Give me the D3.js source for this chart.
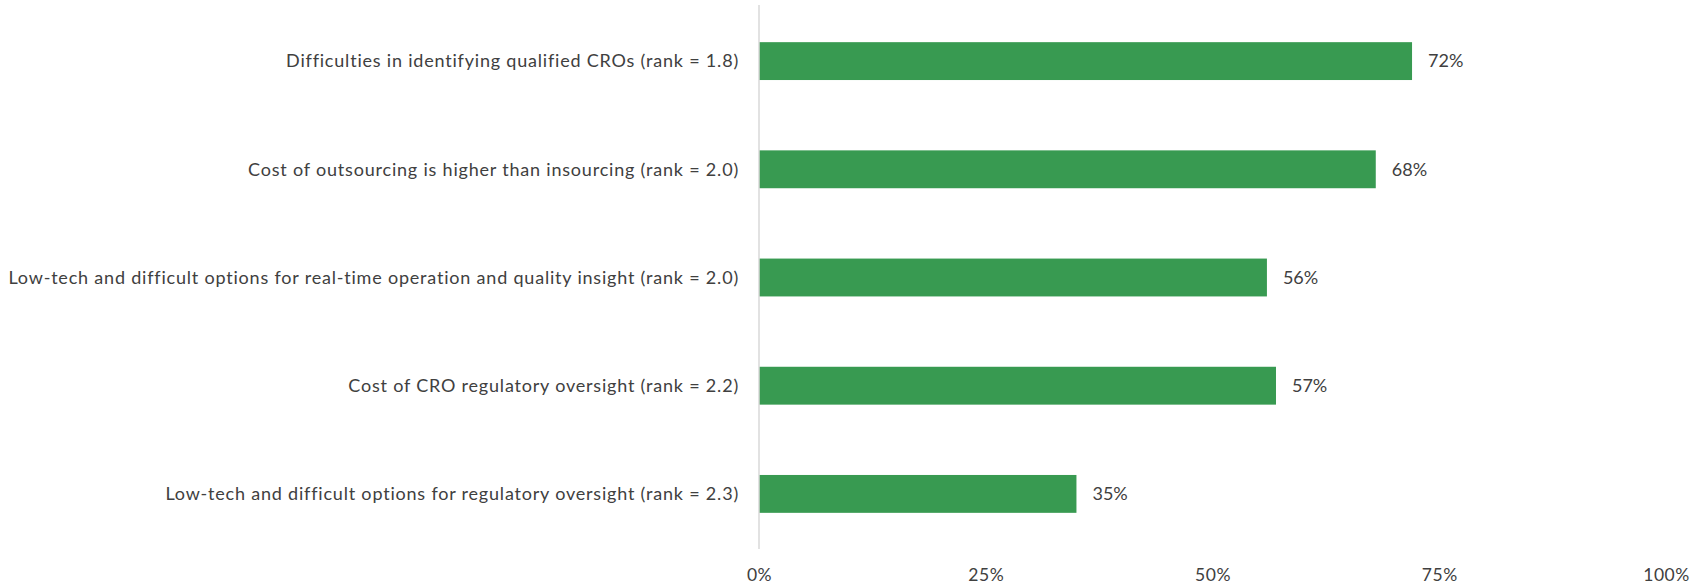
<!DOCTYPE html>
<html lang="en">
<head>
    <meta charset="UTF-8">
    <title>CRO challenges</title>
    <script src="https://d3js.org/d3.v7.min.js"></script>
    <style>
        body { margin: 0; background: #fff; }
        text { font-family: Lato, "Open Sans", sans-serif; fill: #404040; }
    </style>
</head>
<body>
<script>
    var categories = [
        "Difficulties in identifying qualified CROs (rank = 1.8)",
        "Cost of outsourcing is higher than insourcing (rank = 2.0)",
        "Low-tech and difficult options for real-time operation and quality insight (rank = 2.0)",
        "Cost of CRO regulatory oversight (rank = 2.2)",
        "Low-tech and difficult options for regulatory oversight (rank = 2.3)"
    ];
    var values = [0.72, 0.68, 0.56, 0.57, 0.35];
    var xTicks = [0, 0.25, 0.5, 0.75, 1];

    var margin = {top: 7, right: 39, bottom: 38, left: 759},
        width = 1705 - margin.left - margin.right,
        height = 586 - margin.top - margin.bottom;

    var svg = d3.select("body").append("svg")
        .attr("width", 1705)
        .attr("height", 586)
        .append("g")
        .attr("transform", "translate(" + margin.left + "," + margin.top + ")");

    var xScale = d3.scaleLinear().domain([0, 1]).range([0, width]);
    var yScale = d3.scaleBand().domain(categories).range([0, height]).paddingInner(0.65).paddingOuter(0.325);

    // x axis labels only, no line
    var x_axis = d3.axisBottom(xScale)
        .tickValues(xTicks)
        .tickSize(0)
        .tickFormat(d3.format(".0%"));
    var gx = svg.append("g")
        .attr("transform", "translate(0," + height + ")")
        .call(x_axis);
    gx.select(".domain").remove();
    gx.selectAll("text")
        .attr("y", 33)
        .attr("dy", null)
        .attr("fill", "#404040")
        .style("font-size", "17.5px")
        .style("letter-spacing", "0.5px");

    // bars
    svg.selectAll("rect.bar")
        .data(values)
        .enter().append("rect")
        .attr("class", "bar")
        .attr("x", 0)
        .attr("y", function(d, i) { return yScale(categories[i]); })
        .attr("width", function(d) { return xScale(d); })
        .attr("height", yScale.bandwidth())
        .style("fill", "#389a51");

    // y axis line
    svg.append("line")
        .attr("x1", 0).attr("x2", 0)
        .attr("y1", -2).attr("y2", height + 1)
        .style("stroke", "#d9d9d9")
        .style("stroke-width", 1.5);

    // category labels
    svg.selectAll("text.cat")
        .data(categories)
        .enter().append("text")
        .attr("class", "cat")
        .attr("x", -20)
        .attr("y", function(d) { return yScale(d) + yScale.bandwidth() / 2; })
        .attr("dy", "0.35em")
        .attr("text-anchor", "end")
        .style("font-size", "18px")
        .style("letter-spacing", "0.8px")
        .text(function(d) { return d; });

    // value labels
    svg.selectAll("text.val")
        .data(values)
        .enter().append("text")
        .attr("class", "val")
        .attr("x", function(d) { return xScale(d) + 16; })
        .attr("y", function(d, i) { return yScale(categories[i]) + yScale.bandwidth() / 2; })
        .attr("dy", "0.35em")
        .style("font-size", "18px")
        .text(function(d) { return d3.format(".0%")(d); });
</script>
</body>
</html>
